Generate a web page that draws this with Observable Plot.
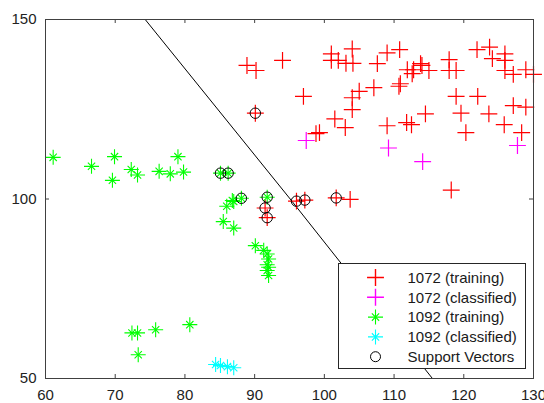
<!DOCTYPE html>
<html><head><meta charset="utf-8">
<script src="https://cdn.jsdelivr.net/npm/d3@7"></script>
<script src="https://cdn.jsdelivr.net/npm/@observablehq/plot@0.6"></script>
<style>html,body{margin:0;padding:0;background:#fff;} #chart{width:544px;height:403px;}</style>
</head><body><div id="chart"></div>
<script>
// ---- data ----
const redX = [88.9, 90.2, 94.0, 101.0, 101.0, 104.0, 102.0, 103.1, 104.1, 107.6,
  109.0, 110.8, 111.9, 112.8, 113.8, 112.6, 114.0, 115.0, 117.9, 117.9,
  118.9, 121.9, 123.7, 124.1, 125.9, 125.9, 125.9, 127.1, 128.9, 130.0,
  110.9, 110.7, 107.1, 105.0, 104.0, 104.0, 97.0, 101.5, 103.0, 109.0,
  111.8, 112.5, 114.5, 118.9, 122.0, 119.6, 123.6, 127.1, 128.9, 125.8,
  120.3, 128.3, 98.8, 99.3, 118.2, 103.7,
  90.1, 91.5, 91.8, 96.0, 97.2, 101.7];
const redY = [137.2, 135.8, 138.6, 140.4, 138.6, 141.8, 138.6, 137.8, 137.8, 137.7,
  140.7, 141.6, 136.0, 136.0, 137.7, 134.9, 137.2, 135.8, 138.8, 135.8,
  135.8, 141.6, 142.3, 139.1, 140.4, 138.6, 135.8, 134.7, 136.0, 134.7,
  132.1, 131.4, 131.0, 130.0, 128.2, 124.9, 128.6, 122.3, 119.9, 120.4,
  121.3, 120.7, 123.7, 128.6, 128.6, 123.9, 123.7, 126.0, 125.6, 120.7,
  118.5, 118.5, 118.2, 118.5, 102.5, 99.9,
  123.9, 97.5, 94.8, 99.4, 99.7, 100.3];
const magentaX = [97.4, 109.2, 114.1, 127.7];
const magentaY = [116.3, 114.2, 110.4, 114.9];
const greenX = [61.1, 66.6, 69.9, 69.6, 72.3, 73.2, 76.3, 77.9, 79.0, 79.8,
  86.0, 87.0, 86.8, 85.5, 87.0,
  90.1, 91.3, 91.8, 92.0, 91.8, 92.0, 91.8, 92.0,
  72.4, 73.2, 75.8, 80.7, 73.3,
  85.1, 86.2, 88.1, 91.8];
const greenY = [111.6, 109.1, 111.8, 105.2, 108.2, 106.7, 107.7, 107.0, 111.8, 107.5,
  98.0, 99.3, 99.6, 93.7, 91.9,
  87.0, 85.7, 84.7, 83.3, 81.7, 81.0, 80.1, 78.7,
  62.7, 62.7, 63.6, 65.0, 56.6,
  107.2, 107.2, 100.2, 100.5];
const cyanX = [84.4, 85.1, 86.1, 87.0];
const cyanY = [53.9, 53.6, 53.3, 53.0];
const svX = [90.1, 91.5, 91.8, 96.0, 97.2, 101.7, 85.1, 86.2, 88.1, 91.8];
const svY = [123.9, 97.5, 94.8, 99.4, 99.7, 100.3, 107.2, 107.2, 100.2, 100.5];
const boundaryX = [74.3, 95.1, 115.5];
const boundaryY = [150, 100, 50];
const xTicks = [60, 70, 80, 90, 100, 110, 120, 130];
const yTicks = [50, 100, 150];
const legendLabels = ["1072 (training)", "1072 (classified)", "1092 (training)", "1092 (classified)", "Support Vectors"];

// ---- chart ----
const W = 544, H = 403, mL = 45, mR = 11, mT = 19, mB = 25;
const pw = W - mL - mR, ph = H - mT - mB;
const pts = (xs, ys) => xs.map((x, i) => ({x, y: ys[i]}));
const axisColor = "#404040";
const FONT = "'Liberation Sans', Arial, sans-serif";
const RED = "#ff0000", MAG = "#ff00ff", GRN = "#00ff00", CYN = "#00ffff";

function star(data, color) {
  return [
    Plot.dot(data, {x: "x", y: "y", symbol: "plus", r: 4.9, stroke: color, strokeWidth: 1.1}),
    Plot.dot(data, {x: "x", y: "y", symbol: "times", r: 3.4, stroke: color, strokeWidth: 1.1})
  ];
}

const plot = Plot.plot({
  width: W, height: H,
  marginLeft: mL, marginRight: mR, marginTop: mT, marginBottom: mB,
  style: {fontFamily: FONT, fontSize: "15px", color: "#262626", background: "#fff", overflow: "visible"},
  x: {domain: [60, 130], label: null},
  y: {domain: [50, 150], label: null},
  marks: [
    Plot.line(pts(boundaryX, boundaryY), {x: "x", y: "y", stroke: "#000", strokeWidth: 1}),
    Plot.dot(pts(redX, redY), {x: "x", y: "y", symbol: "plus", r: 5.5, stroke: RED, strokeWidth: 1.2}),
    Plot.dot(pts(magentaX, magentaY), {x: "x", y: "y", symbol: "plus", r: 5.5, stroke: MAG, strokeWidth: 1.2}),
    ...star(pts(greenX, greenY), GRN),
    ...star(pts(cyanX, cyanY), CYN),
    Plot.dot(pts(svX, svY), {x: "x", y: "y", symbol: "circle", r: 5.2, stroke: "#000", fill: "none", strokeWidth: 1}),
    Plot.frame({stroke: axisColor}),
    Plot.tickX(xTicks, {x: d => d, insetTop: ph - 4, stroke: axisColor}),
    Plot.tickX(xTicks, {x: d => d, insetBottom: ph - 4, stroke: axisColor}),
    Plot.tickY(yTicks, {y: d => d, insetRight: pw - 4, stroke: axisColor}),
    Plot.tickY(yTicks, {y: d => d, insetLeft: pw - 4, stroke: axisColor}),
    Plot.axisX(xTicks, {tickSize: 0, tickPadding: 11, fontSize: 15, label: null, fill: "#222"}),
    Plot.axisY(yTicks, {tickSize: 0, tickPadding: 9, fontSize: 15, label: null, fill: "#222"})
  ]
});
document.getElementById("chart").appendChild(plot);

// ---- legend (inside the axes, lower right) ----
const svg = d3.select(plot);
const lg = svg.append("g").attr("transform", `translate(${W - mR - 194.5},${H - mB - 114.5})`);
lg.append("rect").attr("x", 0).attr("y", 0).attr("width", 187).attr("height", 105)
  .attr("fill", "#fff").attr("stroke", "#262626").attr("stroke-width", 1);
const items = [
  {type: "plus", color: RED},
  {type: "plus", color: MAG},
  {type: "star", color: GRN},
  {type: "star", color: CYN},
  {type: "circle", color: "#000"}
];
const area = r => Math.PI * r * r;
items.forEach((it, i) => {
  const cy = 14 + i * 19.8;
  const sg = lg.append("g").attr("transform", `translate(37,${cy})`)
    .attr("fill", "none").attr("stroke", it.color);
  if (it.type === "plus") {
    sg.append("path").attr("d", d3.symbol(d3.symbolPlus, area(5.5))())
      .attr("stroke", it.color).attr("stroke-width", 1.4);
  } else if (it.type === "star") {
    sg.append("path").attr("d", d3.symbol(d3.symbolPlus, area(4.9))()).attr("stroke-width", 1.1);
    sg.append("path").attr("d", d3.symbol(d3.symbolTimes, area(3.4))()).attr("stroke-width", 1.1);
  } else {
    sg.append("path").attr("d", d3.symbol(d3.symbolCircle, area(5.0))()).attr("stroke-width", 1);
  }
  lg.append("text").attr("x", 69).attr("y", cy).attr("dy", "0.35em")
    .attr("text-anchor", "start")
    .attr("font-family", FONT).attr("font-size", 15).attr("fill", "#1a1a1a")
    .text(legendLabels[i]);
});
</script>
</body></html>
